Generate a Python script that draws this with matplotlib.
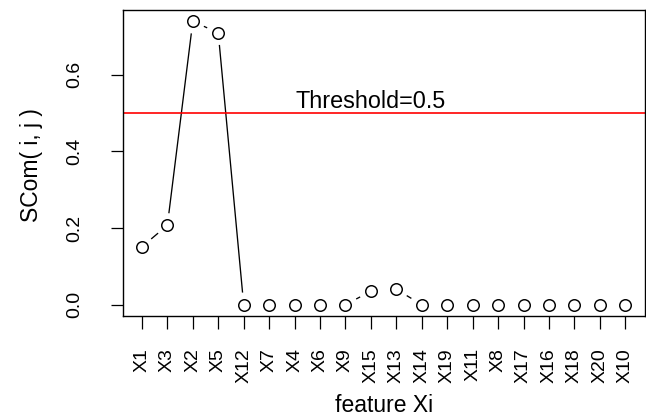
import numpy as np
import matplotlib
matplotlib.use("Agg")
import matplotlib.pyplot as plt
from matplotlib.lines import Line2D

plt.rcParams["font.family"] = ["Liberation Sans", "DejaVu Sans"]

features = ["X1", "X3", "X2", "X5", "X12", "X7", "X4", "X6", "X9", "X15",
            "X13", "X14", "X19", "X11", "X8", "X17", "X16", "X18", "X20", "X10"]
scom = [0.151, 0.207, 0.739, 0.709, 0.0, 0.0, 0.0, 0.0, 0.0, 0.035,
        0.040, 0.0, 0.0, 0.0, 0.0, 0.0, 0.0, 0.0, 0.0, 0.0]
threshold = 0.5

W, H = 646, 419
fig = plt.figure(figsize=(W / 100, H / 100), dpi=100)
ax = fig.add_axes([122.6 / W, (H - 316) / H, 522 / W, 306 / H])

x = np.arange(1, len(features) + 1)
y = np.array(scom)

# R-style axis extents (4% padding on each side)
xr = x.max() - x.min()
yr = y.max() - y.min()
ax.set_xlim(x.min() - 0.04 * xr, x.max() + 0.04 * xr)
ax.set_ylim(y.min() - 0.04 * yr, y.max() + 0.04 * yr)

# type="b": segments between points with a gap around each marker
gap = 12.8  # pixels
pts = ax.transData.transform(np.column_stack([x, y]))
inv = ax.transData.inverted()
for p, q in zip(pts[:-1], pts[1:]):
    d = q - p
    L = np.hypot(*d)
    if L <= 2 * gap + 0.8:
        continue
    u = d / L
    a = inv.transform(p + u * gap)
    b = inv.transform(q - u * gap)
    ax.add_line(Line2D([a[0], b[0]], [a[1], b[1]], color="black", lw=0.95))

ax.plot(x, y, "o", ms=8.3, mfc="none", mec="black", mew=1.05)

ax.axhline(threshold, color="red", lw=1.2)
ax.text(10, 0.512, "Threshold=%g" % threshold, ha="center", va="baseline", fontsize=16.8)

ax.set_xticks(x)
ax.set_xticklabels(features, rotation=90, fontsize=14)
ax.set_yticks([0.0, 0.2, 0.4, 0.6])
ax.set_yticklabels(["0.0", "0.2", "0.4", "0.6"], rotation=90, va="center", fontsize=14)
ax.tick_params(axis="x", length=9, width=0.9, pad=14)
ax.tick_params(axis="y", length=9, width=0.9, pad=19)

for s in ax.spines.values():
    s.set_linewidth(1.0)

ax.set_xlabel("feature Xi", fontsize=16.5, va="baseline")
ax.xaxis.set_label_coords(383.6 / W, (H - 411.5) / H, transform=fig.transFigure)
ax.set_ylabel("SCom( i, j )", fontsize=16.5, va="baseline")
ax.yaxis.set_label_coords(38 / W, (H - 165) / H, transform=fig.transFigure)

fig.savefig("out.png", dpi=100)
